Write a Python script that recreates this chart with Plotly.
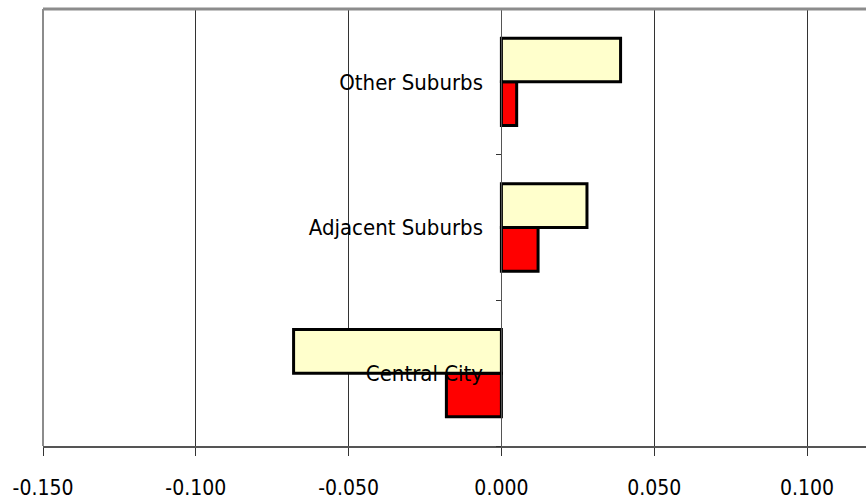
import plotly.graph_objects as go

# Categories listed bottom to top
categories = ["Central City", "Adjacent Suburbs", "Other Suburbs"]
series_light = [-0.068, 0.028, 0.039]   # pale yellow bars (upper bar of each pair)
series_red = [-0.018, 0.012, 0.005]     # red bars (lower bar of each pair)

x_tickvals = [-0.15, -0.10, -0.05, 0.0, 0.05, 0.10]
x_ticktext = ["-0.150", "-0.100", "-0.050", "0.000", "0.050", "0.100"]

FONT = "DejaVu Sans Condensed, Liberation Sans Narrow, Arial Narrow, Liberation Sans, Arial, sans-serif"

W, H = 866, 502
ML, MR, MT, MB = 43, 0, 9, 56
x_min = -0.15
px_per_unit = 3056.0
x_max = x_min + (W - ML - MR) / px_per_unit

fig = go.Figure()
fig.add_trace(go.Bar(
    y=categories, x=series_red, orientation="h",
    marker=dict(color="#FF0000", line=dict(color="#000000", width=3)),
    showlegend=False,
))
fig.add_trace(go.Bar(
    y=categories, x=series_light, orientation="h",
    marker=dict(color="#FFFFCC", line=dict(color="#000000", width=3)),
    showlegend=False,
))

zero_pos = (0 - x_min) / (x_max - x_min)

fig.update_layout(
    width=W, height=H,
    margin=dict(l=ML, r=MR, t=MT, b=MB, pad=0),
    paper_bgcolor="white", plot_bgcolor="white",
    barmode="group", bargap=0.40, bargroupgap=0.0,
    font=dict(family=FONT, color="black"),
    xaxis=dict(
        range=[x_min, x_max],
        tickvals=x_tickvals, ticktext=x_ticktext,
        tickfont=dict(size=21, family=FONT, color="black"),
        showgrid=True, gridcolor="#333333", gridwidth=1,
        zeroline=False,
        showline=True, linecolor="#555555", linewidth=2,
        ticks="outside", ticklen=8, tickcolor="#333333", tickwidth=1,
        ticklabelstandoff=14,
        fixedrange=True,
    ),
    yaxis=dict(
        range=[-0.5, 2.5],
        type="category",
        anchor="free", position=zero_pos,
        showgrid=False, zeroline=False,
        showline=True, linecolor="#555555", linewidth=1,
        ticks="outside", ticklen=5, tickcolor="#333333", tickwidth=1,
        tickson="boundaries",
        tickfont=dict(size=22, family=FONT, color="black"),
        ticklabelstandoff=14,
        fixedrange=True,
    ),
    shapes=[
        # top border of the plot area
        dict(type="line", xref="paper", yref="paper", x0=0, x1=1, y0=1, y1=1,
             line=dict(color="#8C8C8C", width=3)),
        # left border of the plot area
        dict(type="line", xref="paper", yref="paper", x0=0, x1=0, y0=0, y1=1,
             line=dict(color="#8C8C8C", width=2)),
    ],
)

fig.write_html("out.html")
